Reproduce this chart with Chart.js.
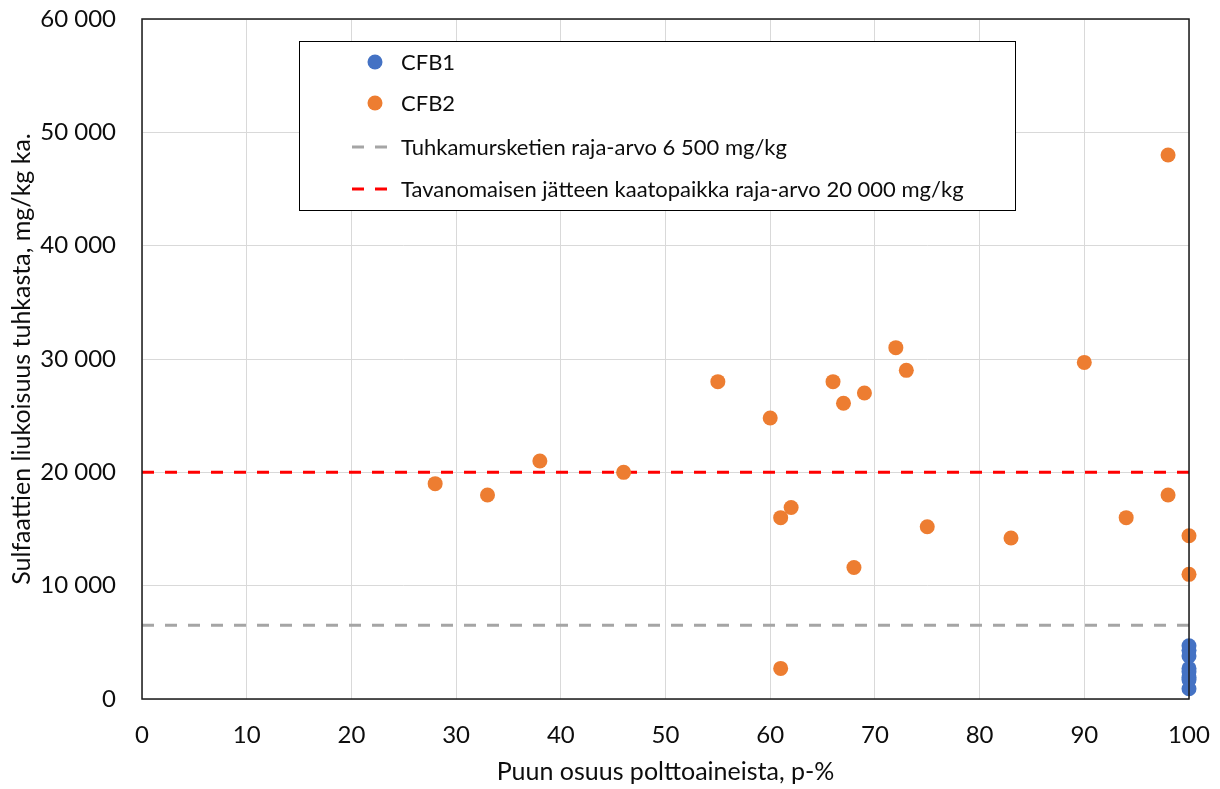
<!DOCTYPE html>
<html lang="fi">
<head>
<meta charset="utf-8">
<title>Sulfaattien liukoisuus tuhkasta</title>
<script src="https://cdn.jsdelivr.net/npm/chart.js@4/dist/chart.umd.min.js"></script>
<style>
  html, body { margin: 0; padding: 0; background: #ffffff; }
  #wrap { width: 1220px; height: 789px; }
</style>
</head>
<body>
<div id="wrap"><canvas id="c" width="1220" height="789"></canvas></div>
<script>
// Puun osuus polttoaineista (p-%) ja sulfaattien liukoisuus (mg/kg ka.)
const cfb1X = [100, 100, 100, 100, 100, 100, 100, 100];
const cfb1Y = [4700, 4300, 3800, 2700, 2400, 1900, 1700, 900];

const cfb2X = [28, 33, 38, 46, 55, 60, 61, 61, 62, 66, 67, 68, 69, 72, 73, 75, 83, 90, 94, 98, 98, 100, 100];
const cfb2Y = [19000, 18000, 21000, 20000, 28000, 24800, 16000, 2700, 16900, 28000, 26100, 11600, 27000, 31000, 29000, 15200, 14200, 29700, 16000, 48000, 18000, 14400, 11000];

// Raja-arvot (mg/kg)
const limitAsh = 6500;
const limitLandfill = 20000;
const limitRange = [0, 100];

const seriesLabels = [
  'CFB1',
  'CFB2',
  'Tuhkamursketien raja-arvo 6 500 mg/kg',
  'Tavanomaisen jätteen kaatopaikka raja-arvo 20 000 mg/kg'
];

const xTicks = [0, 10, 20, 30, 40, 50, 60, 70, 80, 90, 100];
const yTicks = [0, 10000, 20000, 30000, 40000, 50000, 60000];

const FONT = "Lato, 'Open Sans', sans-serif";
const TEXT = '#0d0d0d';

const toPoints = (xs, ys) => xs.map((x, i) => ({ x: x, y: ys[i] }));
const flatLine = v => limitRange.map(x => ({ x: x, y: v }));
const fmt = v => String(v).replace(/\B(?=(\d{3})+(?!\d))/g, ' ');

// Plot frame drawn around the chart area
const framePlugin = {
  id: 'frame',
  afterDatasetsDraw(chart) {
    const { ctx, chartArea: a } = chart;
    ctx.save();
    ctx.strokeStyle = '#1a1a1a';
    ctx.lineWidth = 1.5;
    ctx.strokeRect(a.left, a.top, a.right - a.left, a.bottom - a.top);
    ctx.restore();
  }
};

// Boxed legend inside the plot
const boxLegend = {
  id: 'boxLegend',
  afterDraw(chart) {
    const { ctx } = chart;
    const box = { x: 299.5, y: 41.5, w: 716, h: 169 };
    const rows = [62, 103, 147, 189];
    ctx.save();
    ctx.fillStyle = '#ffffff';
    ctx.fillRect(box.x, box.y, box.w, box.h);
    ctx.strokeStyle = '#000000';
    ctx.lineWidth = 1;
    ctx.strokeRect(box.x, box.y, box.w, box.h);
    ctx.font = '22px ' + FONT;
    ctx.textBaseline = 'middle';
    ctx.textAlign = 'left';
    chart.data.datasets.forEach((ds, i) => {
      const y = rows[i];
      if (ds.showLine) {
        ctx.strokeStyle = ds.borderColor;
        ctx.lineWidth = ds.borderWidth;
        ctx.setLineDash(ds.borderDash);
        ctx.beginPath();
        ctx.moveTo(352, y);
        ctx.lineTo(394, y);
        ctx.stroke();
        ctx.setLineDash([]);
      } else {
        ctx.fillStyle = ds.backgroundColor;
        ctx.beginPath();
        ctx.arc(375, y, ds.pointRadius, 0, Math.PI * 2);
        ctx.fill();
      }
      ctx.fillStyle = TEXT;
      ctx.fillText(ds.label, 401, y + 1);
    });
    ctx.restore();
  }
};

new Chart(document.getElementById('c'), {
  type: 'scatter',
  data: {
    datasets: [
      {
        label: seriesLabels[0],
        data: toPoints(cfb1X, cfb1Y),
        backgroundColor: '#4472C4',
        borderColor: '#4472C4',
        pointRadius: 7.5,
        pointBorderWidth: 0,
        clip: false,
        order: 1
      },
      {
        label: seriesLabels[1],
        data: toPoints(cfb2X, cfb2Y),
        backgroundColor: '#ED7D31',
        borderColor: '#ED7D31',
        pointRadius: 7.5,
        pointBorderWidth: 0,
        clip: false,
        order: 1
      },
      {
        label: seriesLabels[2],
        data: flatLine(limitAsh),
        showLine: true,
        borderColor: '#A5A5A5',
        backgroundColor: '#A5A5A5',
        borderWidth: 3,
        borderDash: [12, 11],
        pointRadius: 0,
        order: 2
      },
      {
        label: seriesLabels[3],
        data: flatLine(limitLandfill),
        showLine: true,
        borderColor: '#FF0000',
        backgroundColor: '#FF0000',
        borderWidth: 3,
        borderDash: [12, 11],
        pointRadius: 0,
        order: 2
      }
    ]
  },
  options: {
    responsive: false,
    animation: false,
    devicePixelRatio: 1,
    layout: { padding: { top: 19, right: 31, left: 0, bottom: 0 } },
    plugins: {
      legend: { display: false },
      tooltip: { enabled: false }
    },
    scales: {
      x: {
        type: 'linear',
        min: 0,
        max: 100,
        afterBuildTicks(scale) { scale.ticks = xTicks.map(v => ({ value: v })); },
        afterFit(scale) {
          scale.height = 90;
          scale.paddingLeft = 0;
          scale.paddingRight = 0;
        },
        grid: { color: '#D9D9D9', lineWidth: 1, drawTicks: false },
        border: { display: false },
        ticks: {
          padding: 22,
          color: TEXT,
          font: { family: FONT, size: 24 },
          maxRotation: 0
        },
        title: {
          display: true,
          text: 'Puun osuus polttoaineista, p-%',
          color: TEXT,
          font: { family: FONT, size: 25, lineHeight: 1.2 },
          padding: { top: 0, bottom: 2 }
        }
      },
      y: {
        type: 'linear',
        min: 0,
        max: 60000,
        afterBuildTicks(scale) { scale.ticks = yTicks.map(v => ({ value: v })); },
        afterFit(scale) {
          scale.width = 142;
          scale.paddingTop = 0;
          scale.paddingBottom = 0;
        },
        grid: { color: '#D9D9D9', lineWidth: 1, drawTicks: false },
        border: { display: false },
        ticks: {
          padding: 26,
          color: TEXT,
          font: { family: FONT, size: 24 },
          callback: v => fmt(v)
        },
        title: {
          display: true,
          text: 'Sulfaattien liukoisuus tuhkasta, mg/kg ka.',
          color: TEXT,
          font: { family: FONT, size: 25, lineHeight: 1.2 },
          padding: { top: 7, bottom: 0 }
        }
      }
    }
  },
  plugins: [framePlugin, boxLegend]
});
</script>
</body>
</html>
